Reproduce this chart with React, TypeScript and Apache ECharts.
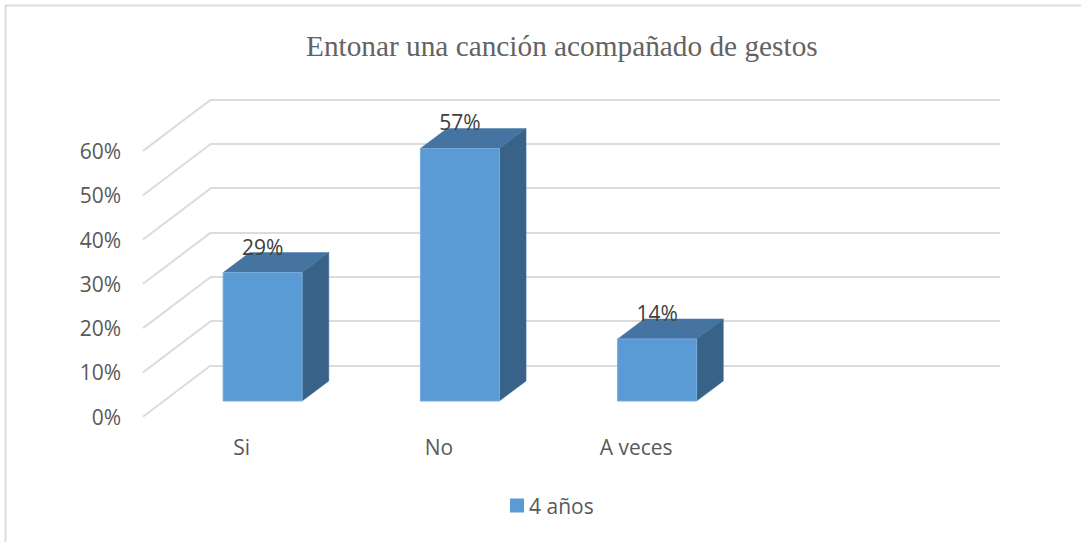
import React, { useEffect, useRef } from "react";
import * as echarts from "echarts";

const titleText = "Entonar una canción acompañado de gestos";
const seriesName = "4 años";
const categories = ["Si", "No", "A veces", ""];
const percentValues = [29, 57, 14];
const valueLabels = ["29%", "57%", "14%"];
const yTicks = [0, 10, 20, 30, 40, 50, 60];

const DEPTH_X = 68;
const DEPTH_Y = 51.4;
const BAR_W = 79;
const BAR_DX = 21;
const BAR_DY = -15.7;
const BAR_DEPTH_X = 26.7;
const BAR_DEPTH_Y = 20;

export default function App() {
  const ref = useRef<HTMLDivElement>(null);
  useEffect(() => {
    const chart = echarts.init(ref.current!, null, { renderer: "svg" });
    chart.setOption({
      animation: false,
      backgroundColor: "#ffffff",
      title: {
        text: titleText,
        left: 306,
        top: 26,
        padding: [5, 0, 5, 0],
        textStyle: {
          fontFamily: "Liberation Serif",
          fontWeight: "normal",
          fontSize: 29.3,
          color: "#636363",
        },
      },
      legend: {
        data: [seriesName],
        left: 510,
        top: 495,
        padding: 0,
        icon: "rect",
        itemWidth: 14,
        itemHeight: 14,
        itemGap: 5,
        textStyle: { fontFamily: "Open Sans", fontSize: 21, color: "#595959" },
      },
      graphic: [
        { type: "line", shape: { x1: 5.5, y1: 5, x2: 5.5, y2: 542 }, style: { stroke: "#dcdcdc", lineWidth: 2 } },
        { type: "line", shape: { x1: 5, y1: 5.5, x2: 1081, y2: 5.5 }, style: { stroke: "#dcdcdc", lineWidth: 2 } },
      ],
      grid: [
        { left: 143, top: 150.9, width: 789, height: 265.8 },
        { left: 211, top: 99.5, width: 789, height: 265.8 },
      ],
      xAxis: [
        {
          type: "category",
          gridIndex: 0,
          data: categories,
          axisLine: { show: false },
          axisTick: { show: false },
          axisLabel: { fontFamily: "Open Sans", fontSize: 21, color: "#595959", margin: 20, interval: 0 },
        },
        { type: "category", gridIndex: 1, data: categories, show: false },
      ],
      yAxis: [
        {
          type: "value",
          gridIndex: 0,
          min: 0,
          max: 60,
          interval: 10,
          splitLine: { show: false },
          axisLine: { show: false },
          axisTick: { show: false },
          axisLabel: { formatter: "{value}%", fontFamily: "Open Sans", fontSize: 21, color: "#595959", margin: 22 },
        },
        {
          type: "value",
          gridIndex: 1,
          min: 0,
          max: 60,
          interval: 10,
          axisLine: { show: false },
          axisTick: { show: false },
          axisLabel: { show: false },
          splitLine: { show: true, lineStyle: { color: "#dcdcdc", width: 2 } },
        },
      ],
      series: [
        {
          type: "custom",
          name: "walls",
          xAxisIndex: 0,
          yAxisIndex: 0,
          silent: true,
          clip: false,
          data: yTicks.map((v) => [categories[0], v]),
          encode: { x: 0, y: 1 },
          renderItem: (params: any, api: any) => {
            const y = api.coord([api.value(0), api.value(1)])[1];
            const x = params.coordSys.x;
            return {
              type: "line",
              shape: { x1: x, y1: y, x2: x + DEPTH_X, y2: y - DEPTH_Y },
              style: { stroke: "#dcdcdc", lineWidth: 2, fill: "none" },
            };
          },
        },
        {
          type: "custom",
          name: seriesName,
          xAxisIndex: 0,
          yAxisIndex: 0,
          clip: false,
          itemStyle: { color: "#5B9BD5" },
          data: percentValues.map((v, i) => [categories[i], v, valueLabels[i]]),
          encode: { x: 0, y: 1 },
          renderItem: (params: any, api: any) => {
            const i = params.dataIndex;
            const cat = categories[i];
            const cx = api.coord([cat, 0])[0] + BAR_DX;
            const baseY = api.coord([cat, 0])[1] + BAR_DY;
            const topY = api.coord([cat, api.value(1)])[1] + BAR_DY;
            const l = cx - BAR_W / 2;
            const r = cx + BAR_W / 2;
            return {
              type: "group",
              children: [
                {
                  type: "polygon",
                  shape: {
                    points: [
                      [l, topY],
                      [r, topY],
                      [r + BAR_DEPTH_X, topY - BAR_DEPTH_Y],
                      [l + BAR_DEPTH_X, topY - BAR_DEPTH_Y],
                    ],
                  },
                  style: { fill: "#44749F", stroke: "#4a7ba8", lineWidth: 0.5 },
                },
                {
                  type: "polygon",
                  shape: {
                    points: [
                      [r, topY],
                      [r + BAR_DEPTH_X, topY - BAR_DEPTH_Y],
                      [r + BAR_DEPTH_X, baseY - BAR_DEPTH_Y],
                      [r, baseY],
                    ],
                  },
                  style: { fill: "#386288", stroke: "#41709a", lineWidth: 0.5 },
                },
                {
                  type: "rect",
                  shape: { x: l, y: topY, width: BAR_W, height: baseY - topY },
                  style: { fill: "#5B9BD5", stroke: "#75ABDD", lineWidth: 1 },
                },
                {
                  type: "text",
                  style: {
                    text: valueLabels[i],
                    x: cx,
                    y: topY - 26,
                    align: "center",
                    verticalAlign: "middle",
                    fontFamily: "Open Sans",
                    fontSize: 21,
                    fill: "#404040",
                  },
                },
              ],
            };
          },
        },
      ],
    });
    return () => chart.dispose();
  }, []);
  return (
    <div
      ref={ref}
      style={{ position: "fixed", left: 0, top: 0, width: 1081, height: 542 }}
    />
  );
}
